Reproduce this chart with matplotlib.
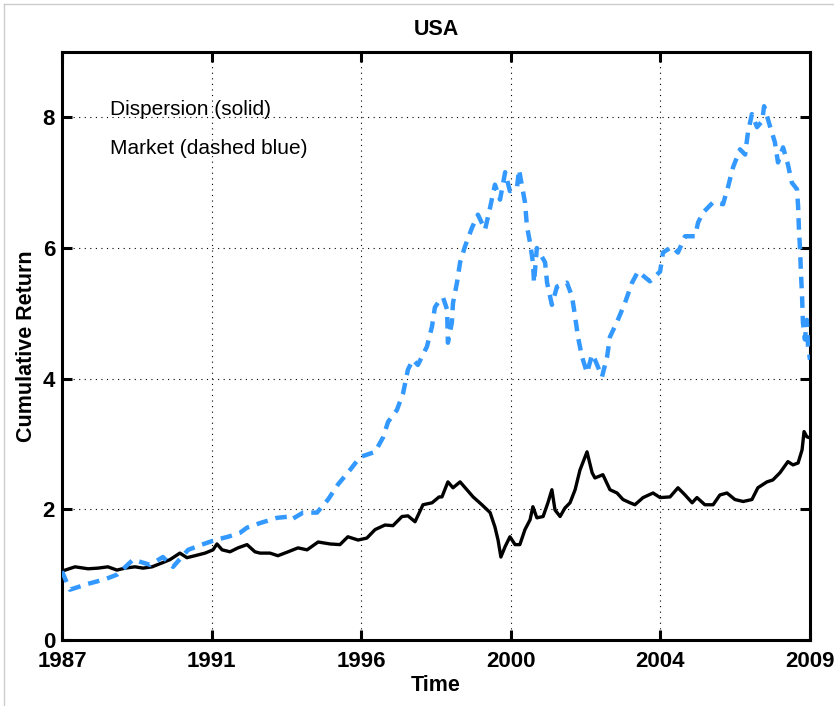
import matplotlib
matplotlib.use("Agg")
import matplotlib.pyplot as plt
from matplotlib.lines import Line2D

# Month index since Jan 1987 (0..264) and cumulative returns
market_t = [0, 2.8, 9.2, 15.2, 19.4, 25.1, 31.1, 35.6, 39.2, 44.5, 49.4, 54.0, 58.6,
            62.8, 65.3, 69.9, 75.9, 80.5, 81.2, 85.1, 90.0, 93.9, 97.4, 101.6, 105.2,
            110.5, 113.3, 115.1, 118.2, 120.4, 122.1, 123.9, 125.6, 128.8, 130.6, 131.6,
            133.4, 134.5, 135.9, 136.2, 137.6, 138.0, 139.4, 140.5, 142.2, 144.7, 146.8,
            149.3, 151.1, 152.8, 154.6, 156.4, 158.1, 160.6, 161.3, 163.4, 164.1, 165.2,
            166.2, 166.6, 167.6, 170.5, 171.2, 172.9, 174.7, 178.2, 180.0, 181.1, 182.1,
            183.5, 185.3, 187.1, 188.1, 190.6, 192.4, 193.4, 195.9, 198.7, 201.2, 203.3,
            207.5, 211.1, 212.1, 215.3, 217.4, 219.9, 223.4, 224.5, 226.2, 229.8, 233.3,
            235.1, 236.8, 239.3, 241.1, 242.1, 243.5, 245.3, 247.1, 247.8, 249.9, 251.6,
            252.7, 254.5, 256.2, 257.6, 259.4, 259.8, 260.1, 260.5, 260.8, 261.2, 261.5,
            262.2, 262.9, 263.3, 264.0]
market_v = [1.05, 0.77, 0.86, 0.93, 1.00, 1.23, 1.15, 1.27, 1.12, 1.38, 1.46, 1.53, 1.58,
            1.64, 1.72, 1.79, 1.87, 1.89, 1.85, 1.95, 1.95, 2.15, 2.38, 2.60, 2.80,
            2.88, 3.10, 3.34, 3.52, 3.78, 4.14, 4.29, 4.21, 4.49, 4.80, 5.09,
            5.21, 5.24, 5.06, 4.55, 4.86, 5.16, 5.47, 5.78, 6.02, 6.31, 6.51,
            6.28, 6.62, 6.97, 6.74, 7.16, 6.87, 6.93, 7.20, 6.70, 6.33, 6.08,
            5.78, 5.47, 6.00, 5.78, 5.47, 5.13, 5.41, 5.47, 5.26, 4.95, 4.64,
            4.34, 4.09, 4.37, 4.29, 4.03, 4.34, 4.64, 4.87, 5.16, 5.47, 5.64,
            5.49, 5.64, 5.93, 6.02, 5.93, 6.18, 6.18, 6.39, 6.54, 6.70, 6.67,
            6.94, 7.23, 7.51, 7.43, 7.77, 8.05, 7.85, 7.94, 8.17, 7.86, 7.62,
            7.31, 7.54, 7.28, 7.00, 6.90, 6.64, 6.28, 5.98, 5.62, 5.26, 4.86,
            4.60, 4.90, 4.50, 4.29]

disp_t = [0, 1.1, 4.6, 9.2, 12.7, 16.2, 19.4, 22.2, 25.8, 28.6, 31.8, 35.3, 38.1, 41.6,
          44.1, 46.9, 50.5, 53.3, 54.7, 56.5, 59.3, 62.1, 65.3, 68.1, 69.9, 73.4, 76.2,
          79.8, 83.3, 86.5, 90.4, 94.6, 98.1, 100.9, 104.5, 107.6, 110.5, 114.0, 116.8,
          120.0, 122.1, 124.6, 127.4, 130.6, 133.1, 134.1, 136.2, 138.0, 140.5, 142.9,
          145.1, 148.2, 151.1, 152.8, 153.9, 154.9, 156.4, 158.1, 159.9, 161.6, 163.4,
          165.2, 166.2, 167.6, 169.8, 171.5, 172.9, 174.0, 175.8, 177.5, 179.3, 181.1,
          182.8, 185.3, 187.1, 188.1, 190.9, 193.4, 195.9, 198.0, 200.5, 202.2, 205.1,
          208.6, 211.1, 214.6, 217.4, 219.9, 222.4, 224.1, 226.9, 229.8, 232.2, 234.7,
          237.5, 240.4, 243.5, 245.6, 248.8, 250.9, 253.4, 256.2, 258.0, 259.8, 261.2,
          261.9, 262.9, 263.6]
disp_v = [1.05, 1.07, 1.12, 1.09, 1.10, 1.12, 1.07, 1.10, 1.12, 1.10, 1.12, 1.18, 1.23, 1.33,
          1.26, 1.29, 1.33, 1.38, 1.47, 1.38, 1.35, 1.41, 1.46, 1.35, 1.33, 1.33, 1.29,
          1.35, 1.41, 1.38, 1.50, 1.47, 1.46, 1.58, 1.53, 1.56, 1.69, 1.76, 1.75,
          1.89, 1.90, 1.81, 2.07, 2.10, 2.19, 2.19, 2.42, 2.33, 2.42, 2.30,
          2.19, 2.07, 1.95, 1.73, 1.53, 1.27, 1.43, 1.58, 1.46, 1.46, 1.69,
          1.84, 2.04, 1.87, 1.89, 2.10, 2.30, 1.99, 1.89, 2.02, 2.10, 2.30,
          2.60, 2.88, 2.56, 2.48, 2.53, 2.30, 2.25, 2.15, 2.10, 2.07, 2.18,
          2.25, 2.18, 2.19, 2.33, 2.22, 2.10, 2.18, 2.07, 2.07, 2.22, 2.25,
          2.15, 2.12, 2.15, 2.33, 2.42, 2.45, 2.56, 2.73, 2.68, 2.71, 2.91,
          3.19, 3.11, 3.10]

tick_labels = ["1987", "1991", "1996", "2000", "2004", "2009"]
tick_pos = [0, 52.8, 105.6, 158.4, 211.2, 264]
y_ticks = [0, 2, 4, 6, 8]

plt.rcParams['font.family'] = ['Liberation Sans', 'DejaVu Sans']

fig = plt.figure(figsize=(8.34, 7.06), dpi=100)
ax = fig.add_axes([62/834, 66/706, 748/834, 588/706])

ax.plot(disp_t, disp_v, color='black', lw=2.4, zorder=3)
ax.plot(market_t, market_v, color='#3399ff', lw=3.2, dashes=(2.6, 1.8), zorder=4)

ax.set_xlim(0, 264)
ax.set_ylim(0, 9)
ax.set_xticks(tick_pos)
ax.set_xticklabels(tick_labels)
ax.set_yticks(y_ticks)

ax.grid(True, color='black', linestyle=(0, (1, 4)), linewidth=0.8)
for s in ax.spines.values():
    s.set_linewidth(2.2)
ax.tick_params(direction='in', length=7, width=2.2, top=True, right=True,
               labelsize=16)
ax.tick_params(axis='x', pad=8)
ax.tick_params(axis='y', pad=5)
for lab in ax.get_xticklabels() + ax.get_yticklabels():
    lab.set_fontweight('bold')

ax.set_xlabel("Time", fontsize=15.5, fontweight='bold', labelpad=2)
ax.set_ylabel("Cumulative Return", fontsize=15.5, fontweight='bold', labelpad=4)
ax.set_title("USA", fontsize=15.5, fontweight='bold', pad=12)

ax.text(16.9, 8.12, "Dispersion (solid)", fontsize=15, va='center', ha='left')
ax.text(16.9, 7.53, "Market (dashed blue)", fontsize=15, va='center', ha='left')

fig.add_artist(Line2D([4/834, 1], [1 - 4/706, 1 - 4/706], color='#cccccc', lw=1))
fig.add_artist(Line2D([4/834, 4/834], [0, 1 - 4/706], color='#cccccc', lw=1))

fig.savefig("out.png", dpi=100)
